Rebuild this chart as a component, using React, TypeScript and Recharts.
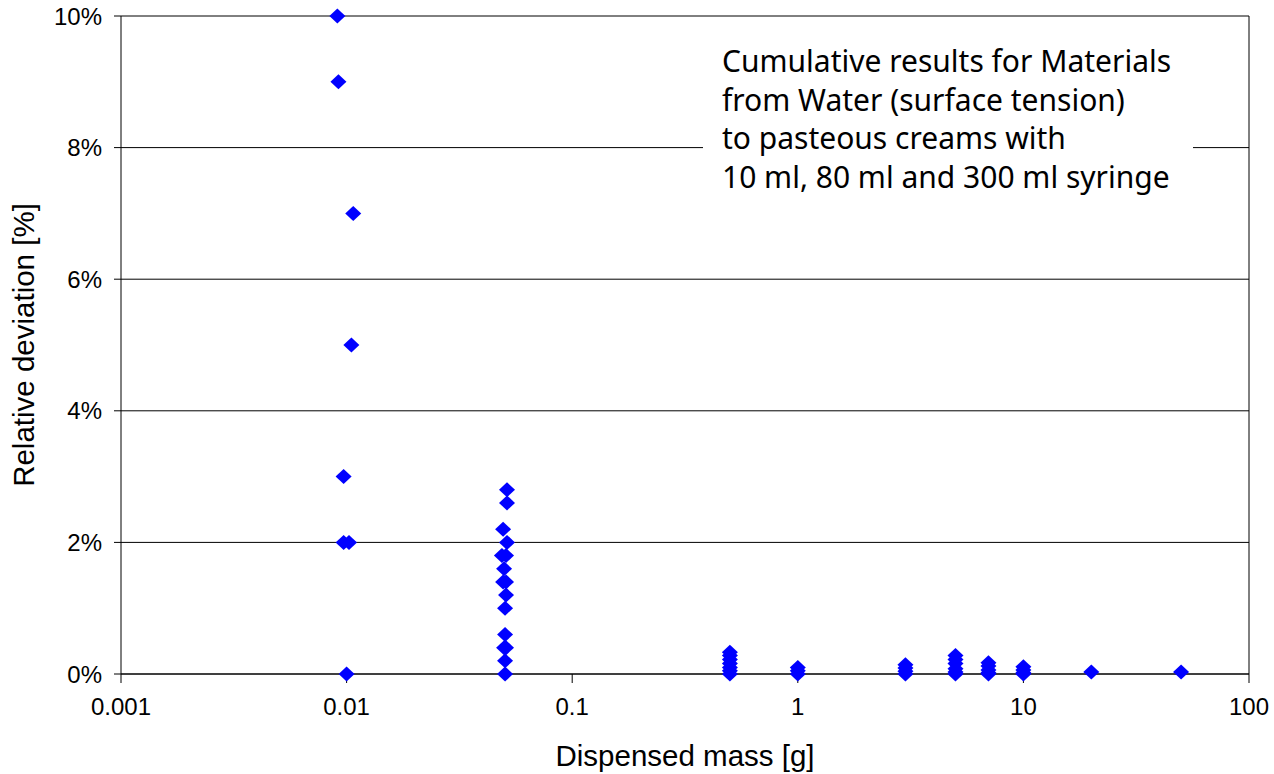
import React from "react";
import {
  CartesianGrid,
  Label,
  ReferenceLine,
  Scatter,
  ScatterChart,
  XAxis,
  YAxis,
} from "recharts";

// dispensed mass [g] and relative deviation [%] per nominal dose
const mass10mg = [0.0091, 0.0092, 0.0107, 0.0105, 0.0097, 0.0097, 0.01025, 0.01];
const dev10mg = [10, 9, 7, 5, 3, 2, 2, 0];

const mass50mg = [
  0.0514, 0.0514, 0.0494, 0.0514, 0.0488, 0.0509, 0.0499, 0.0494, 0.0509, 0.0509, 0.0504,
  0.0504, 0.0499, 0.0509, 0.0504, 0.0504,
];
const dev50mg = [2.8, 2.6, 2.2, 2.0, 1.8, 1.8, 1.6, 1.4, 1.4, 1.2, 1.0, 0.6, 0.4, 0.4, 0.2, 0];

const dev500mg = [0.33, 0.28, 0.22, 0.16, 0.1, 0.05, 0];
const dev1g = [0.1, 0.05, 0];
const dev3g = [0.14, 0.09, 0.04, 0];
const dev5g = [0.28, 0.22, 0.16, 0.08, 0.03, 0];
const dev7g = [0.17, 0.12, 0.06, 0.02, 0];
const dev10g = [0.11, 0.06, 0.02, 0];
const dev20g = [0.03];
const dev50g = [0.03];

const xTicks = [0.001, 0.01, 0.1, 1, 10, 100];
const yTicks = [0, 2, 4, 6, 8, 10];

const noteLines = [
  "Cumulative results for Materials",
  "from Water (surface tension)",
  "to pasteous creams with",
  "10 ml, 80 ml and 300 ml syringe",
];

const atMass = (m: number, devs: number[]) => devs.map((d) => ({ mass: m, dev: d }));

const points = [
  ...mass10mg.map((m, i) => ({ mass: m, dev: dev10mg[i] })),
  ...mass50mg.map((m, i) => ({ mass: m, dev: dev50mg[i] })),
  ...atMass(0.5, dev500mg),
  ...atMass(1, dev1g),
  ...atMass(3, dev3g),
  ...atMass(5, dev5g),
  ...atMass(7, dev7g),
  ...atMass(10, dev10g),
  ...atMass(20, dev20g),
  ...atMass(50, dev50g),
];

const ARIAL = "'Liberation Sans', Arial, sans-serif";

function Diamond(props: any) {
  const { cx, cy } = props;
  if (cx == null || cy == null) return null;
  const w = 8;
  const h = 7.5;
  return (
    <polygon
      points={`${cx},${cy - h} ${cx + w},${cy} ${cx},${cy + h} ${cx - w},${cy}`}
      fill="#0000ff"
    />
  );
}

function YTitle(props: any) {
  const cy = props.viewBox ? props.viewBox.y + props.viewBox.height / 2 : 345;
  return (
    <text
      x={34}
      y={cy}
      transform={`rotate(-90, 34, ${cy})`}
      textAnchor="middle"
      fontFamily={ARIAL}
      fontSize={29.5}
      fill="#000"
    >
      Relative deviation [%]
    </text>
  );
}

export default function App() {
  return (
    <div style={{ position: "absolute", left: 0, top: 0, width: 1274, height: 774, background: "#fff" }}>
      <ScatterChart
        width={1274}
        height={774}
        margin={{ top: 16, right: 25, bottom: 0, left: 0 }}
      >
        <CartesianGrid vertical={false} stroke="#000" strokeWidth={1} />
        <XAxis
          type="number"
          dataKey="mass"
          scale="log"
          domain={[0.001, 100]}
          ticks={xTicks}
          allowDataOverflow
          height={100}
          stroke="#000"
          tickSize={9}
          tickMargin={15}
          tick={{ fill: "#000", fontSize: 24, fontFamily: ARIAL }}
          tickFormatter={(v) => String(v)}
        >
          <Label
            value="Dispensed mass [g]"
            position="insideBottom"
            offset={8}
            style={{ fill: "#000", fontSize: 29.5, fontFamily: ARIAL }}
          />
        </XAxis>
        <YAxis
          type="number"
          dataKey="dev"
          domain={[0, 10]}
          ticks={yTicks}
          width={121}
          stroke="#000"
          tickSize={7}
          tickMargin={12}
          tick={{ fill: "#000", fontSize: 24, fontFamily: ARIAL }}
          tickFormatter={(v) => `${v}%`}
        >
          <Label content={<YTitle />} />
        </YAxis>
        <ReferenceLine x={100} stroke="#000" strokeWidth={1} />
        <Scatter data={points} shape={<Diamond />} isAnimationActive={false} />
      </ScatterChart>
      <div
        style={{
          position: "absolute",
          left: 703,
          top: 42,
          width: 471,
          height: 160,
          paddingLeft: 19,
          background: "#fff",
          fontFamily: "'Noto Sans', 'Open Sans', sans-serif",
          fontSize: 30,
          lineHeight: "38.5px",
          color: "#000",
          whiteSpace: "nowrap",
        }}
      >
        {noteLines.map((line) => (
          <div key={line}>{line}</div>
        ))}
      </div>
    </div>
  );
}
